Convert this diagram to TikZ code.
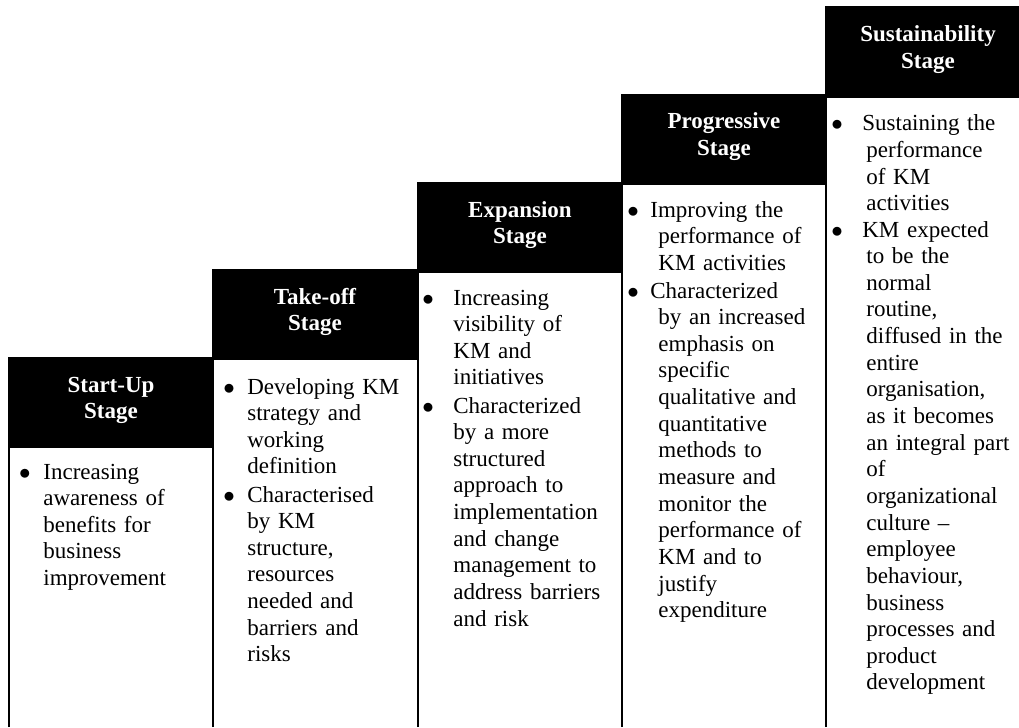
\documentclass[tikz,border=0pt]{standalone}
\usepackage{fontspec}
\setmainfont{Liberation Serif}
\usetikzlibrary{positioning}

\begin{document}
\begin{tikzpicture}[x=0.5217pt, y=0.5217pt,
    headbox/.style={fill=black, draw=black, line width=1pt},
    bodyline/.style={draw=black, line width=1pt},
    headtext/.style={text=white, font=\bfseries\fontsize{12}{13.9}\selectfont, text width=100pt, align=center, anchor=base, inner sep=0pt},
    itemtext/.style={font=\fontsize{12}{13.9}\selectfont, text width=100pt, align=left, anchor=base west, inner sep=0pt},
    bulletmark/.style={font=\fontsize{12}{13.9}\selectfont, anchor=base, inner sep=0pt}]
    \useasboundingbox (0,0) rectangle (1019,727);

    %Columns
    \draw[bodyline] (9,0) -- (9,280) -- (213,280) -- (213,0);
    \draw[bodyline] (213,0) -- (213,368) -- (418,368) -- (418,0);
    \draw[bodyline] (418,0) -- (418,455) -- (622,455) -- (622,0);
    \draw[bodyline] (622,0) -- (622,543) -- (826,543) -- (826,0);
    \draw[bodyline] (826,0) -- (826,630) -- (1019,630);

    %Headers
    \fill[headbox] (9,280) rectangle (213,369);
    \fill[headbox] (213,368) rectangle (418,457);
    \fill[headbox] (418,455) rectangle (622,544);
    \fill[headbox] (622,543) rectangle (826,632);
    \fill[headbox] (826,630) rectangle (1019,720);

    \node[headtext] (startup) at (111,335) {Start-Up\\Stage};
    \node[headtext] (takeoff) at (315,423) {Take-off\\Stage};
    \node[headtext] (expansion) at (520,510) {Expansion\\Stage};
    \node[headtext] (progressive) at (724,598) {Progressive\\Stage};
    \node[headtext] (sustain) at (928,685) {Sustainability\\Stage};

    %Items
    \node[bulletmark] (b1) at (25,248) {$\bullet$};
    \node[itemtext] (startup1) at (43,248) {Increasing\\awareness of\\benefits for\\business\\improvement};

    \node[bulletmark] (b2a) at (229,333) {$\bullet$};
    \node[itemtext] (takeoff1) at (247,333) {Developing KM\\strategy and\\working\\definition};
    \node[bulletmark] (b2b) at (229,225) {$\bullet$};
    \node[itemtext] (takeoff2) at (247,225) {Characterised\\by KM\\structure,\\resources\\needed and\\barriers and\\risks};

    \node[bulletmark] (b3a) at (428,422) {$\bullet$};
    \node[itemtext] (expansion1) at (453,422) {Increasing\\visibility of\\KM and\\initiatives};
    \node[bulletmark] (b3b) at (428,314) {$\bullet$};
    \node[itemtext] (expansion2) at (453,314) {Characterized\\by a more\\structured\\approach to\\implementation\\and change\\management to\\address barriers\\and risk};

    \node[bulletmark] (b4a) at (633,510) {$\bullet$};
    \node[itemtext] (progressive1) at (658,510) {\hspace*{-4.2pt}Improving the\\performance of\\KM activities};
    \node[bulletmark] (b4b) at (633,429) {$\bullet$};
    \node[itemtext] (progressive2) at (658,429) {\hspace*{-4.2pt}Characterized\\by an increased\\emphasis on\\specific\\qualitative and\\quantitative\\methods to\\measure and\\monitor the\\performance of\\KM and to\\justify\\expenditure};

    \node[bulletmark] (b5a) at (837,596) {$\bullet$};
    \node[itemtext] (sustain1) at (866,596) {\hspace*{-2.1pt}Sustaining the\\performance\\of KM\\activities};
    \node[bulletmark] (b5b) at (837,490) {$\bullet$};
    \node[itemtext] (sustain2) at (866,490) {\hspace*{-2.1pt}KM expected\\to be the\\normal\\routine,\\diffused in the\\entire\\organisation,\\as it becomes\\an integral part\\of\\organizational\\culture –\\employee\\behaviour,\\business\\processes and\\product\\development};
\end{tikzpicture}
\end{document}
